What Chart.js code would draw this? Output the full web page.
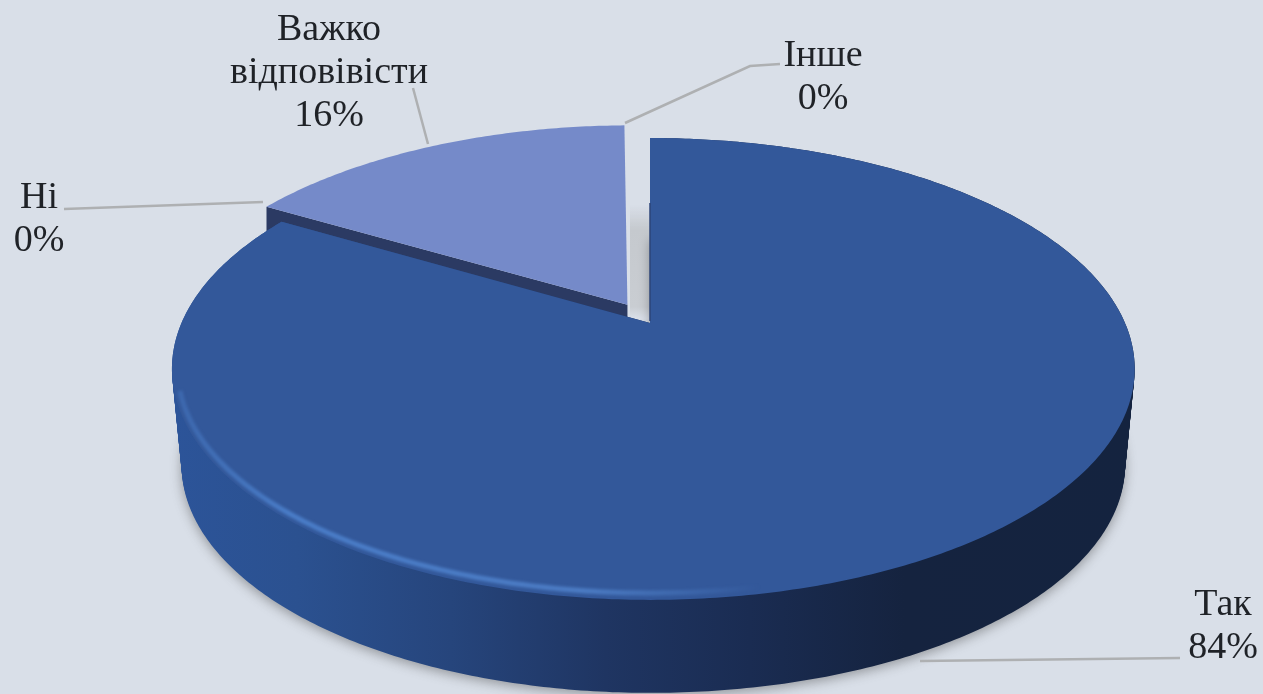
<!DOCTYPE html>
<html lang="uk">
<head>
<meta charset="utf-8">
<title>Pie</title>
<script src="https://cdn.jsdelivr.net/npm/chart.js@4"></script>
<style>
    html, body { margin: 0; padding: 0; background: #d9dfe8; overflow: hidden; }
    #wrap { width: 1263px; height: 694px; }
    #pie { display: block; filter: blur(0.7px); }
</style>
</head>
<body>
<div id="wrap"><canvas id="pie" width="1263" height="694"></canvas></div>
<script>
const categories = ['Так', 'Ні', 'Важко відповівісти', 'Інше'];
const shares = [83.6, 0, 16.4, 0];
const sliceColors = ['#33589a', '#33589a', '#758ac9', '#d9dfe8'];

// where each label goes and how its leader line runs
const labelLayout = [
    { x: 1223, y: 605.5, line: [[920, 661], [1180, 658]] },
    { x: 39, y: 198.5, line: [[64, 209], [263, 202]] },
    { x: 329, y: 30.5, line: [[428, 144], [413, 88]] },
    { x: 823, y: 56.5, line: [[625, 123], [750, 66], [780, 64]] }
];

// perspective of the disc, measured on the reference
const view = { cx: 650, cy: 323, aLeft: 468.5, aRight: 475, b: 157.5, q: 0.199 };
const base = { scale: 0.98, topMid: 369, botMid: 465, yScale: 0.987 };

function project(u, v) {
    const w = 1 - view.q * v;
    const a = u < 0 ? view.aLeft : view.aRight;
    return { x: view.cx + a * u / w, y: (view.cy + view.b * v) / w };
}

function lower(p, t) {
    const x = view.cx + 3 + (p.x - view.cx - 3) * base.scale;
    const y = base.botMid + (p.y - base.topMid) * base.yScale;
    return { x: p.x + (x - p.x) * t, y: p.y + (y - p.y) * t };
}

function arcPoints(el) {
    const mid = (el.startAngle + el.endAngle) / 2;
    const off = (el.options.offset || 0) / el.outerRadius;
    const du = off * Math.cos(mid);
    const dv = off * Math.sin(mid);
    const steps = Math.max(2, Math.ceil((el.endAngle - el.startAngle) * 90));
    const rim = [];
    for (let i = 0; i <= steps; i++) {
        const t = el.startAngle + (el.endAngle - el.startAngle) * i / steps;
        rim.push(project(Math.cos(t) + du, Math.sin(t) + dv));
    }
    return { apex: project(du, dv), rim: rim };
}

function trace(ctx, pts) {
    ctx.beginPath();
    pts.forEach((p, i) => {
        if (i === 0) ctx.moveTo(p.x, p.y);
        else ctx.lineTo(p.x, p.y);
    });
    ctx.closePath();
}

function drawSmallSlice(ctx, el) {
    const g = arcPoints(el);
    const corner = g.rim[0];
    // dark cut face, the big slice covers most of it
    ctx.fillStyle = '#2b3a63';
    trace(ctx, [corner, g.apex, { x: g.apex.x, y: g.apex.y + 14 }, { x: corner.x, y: corner.y + 40 }]);
    ctx.fill();
    ctx.fillStyle = el.options.backgroundColor;
    trace(ctx, [g.apex].concat(g.rim));
    ctx.fill();
}

function drawBigSlice(ctx, el) {
    const g = arcPoints(el);
    const wedge = [g.apex].concat(g.rim);

    const side = ctx.createLinearGradient(172, 0, 1135, 0);
    side.addColorStop(0, '#2c5499');
    side.addColorStop(0.13, '#2b5190');
    side.addColorStop(0.29, '#26457c');
    side.addColorStop(0.45, '#1f3562');
    side.addColorStop(0.6, '#1a2c52');
    side.addColorStop(0.76, '#15233f');
    side.addColorStop(1, '#14233f');

    // shadow first, then sweep the wedge down so the wall has straight flanks
    ctx.save();
    ctx.shadowColor = 'rgba(60, 60, 60, 0.45)';
    ctx.shadowBlur = 12;
    ctx.shadowOffsetY = 3;
    ctx.fillStyle = side;
    trace(ctx, wedge.map(p => lower(p, 1)));
    ctx.fill();
    ctx.restore();
    ctx.fillStyle = side;
    for (let i = 0; i < 48; i++) {
        trace(ctx, wedge.map(p => lower(p, i / 48)));
        ctx.fill();
    }

    ctx.fillStyle = el.options.backgroundColor;
    trace(ctx, wedge);
    ctx.fill();

    // lit rim on the front left
    const glow = ctx.createLinearGradient(172, 0, 760, 0);
    glow.addColorStop(0, 'rgba(74, 125, 200, 0.4)');
    glow.addColorStop(0.2, 'rgba(74, 125, 200, 1)');
    glow.addColorStop(0.7, 'rgba(76, 124, 196, 1)');
    glow.addColorStop(1, 'rgba(76, 124, 196, 0)');
    ctx.save();
    ctx.filter = 'blur(1.5px)';
    ctx.strokeStyle = glow;
    ctx.lineWidth = 5;
    ctx.beginPath();
    let pen = false;
    g.rim.forEach(p => {
        if (p.y < base.topMid + 20 || p.x > 780) return;
        const q = { x: view.cx + 3 + (p.x - view.cx - 3) * 0.988, y: base.topMid + (p.y - base.topMid) * 0.97 };
        if (!pen) ctx.moveTo(q.x, q.y);
        else ctx.lineTo(q.x, q.y);
        pen = true;
    });
    ctx.stroke();
    ctx.restore();

    // thin dark edge of the cut next to the gap
    ctx.strokeStyle = '#2d4478';
    ctx.lineWidth = 1.5;
    ctx.beginPath();
    ctx.moveTo(g.apex.x, g.apex.y - 120);
    ctx.lineTo(g.apex.x, g.apex.y - 2);
    ctx.stroke();
}

function drawGapShadow(ctx) {
    const grey = ctx.createLinearGradient(0, 205, 0, 318);
    grey.addColorStop(0, 'rgba(197, 201, 206, 0)');
    grey.addColorStop(0.22, 'rgba(197, 201, 206, 1)');
    grey.addColorStop(0.9, 'rgba(201, 205, 210, 1)');
    grey.addColorStop(1, 'rgba(217, 223, 232, 1)');
    ctx.fillStyle = grey;
    ctx.fillRect(630, 205, 20, 114);
}

function drawLabels(chart) {
    const ctx = chart.ctx;
    const total = shares.reduce((s, v) => s + v, 0);
    categories.forEach((name, i) => {
        const box = labelLayout[i];
        ctx.strokeStyle = '#aeb0b2';
        ctx.lineWidth = 2.5;
        ctx.beginPath();
        box.line.forEach((p, k) => {
            if (k === 0) ctx.moveTo(p[0], p[1]);
            else ctx.lineTo(p[0], p[1]);
        });
        ctx.stroke();

        const lines = name.split(' ');
        lines.push(Math.round(shares[i] / total * 100) + '%');
        ctx.fillStyle = '#1f2227';
        ctx.font = '38px "Liberation Serif"';
        ctx.textAlign = 'center';
        ctx.textBaseline = 'middle';
        lines.forEach((text, k) => ctx.fillText(text, box.x, box.y + k * 43));
    });
}

const pie3d = {
    id: 'pie3d',
    beforeDatasetsDraw(chart) {
        const ctx = chart.ctx;
        const arcs = chart.getDatasetMeta(0).data;
        drawSmallSlice(ctx, arcs[2]);
        drawGapShadow(ctx);
        drawBigSlice(ctx, arcs[0]);
        drawLabels(chart);
        return false; // the library's flat arcs are replaced by the tilted ones
    }
};

new Chart(document.getElementById('pie').getContext('2d'), {
    type: 'pie',
    data: {
        labels: categories,
        datasets: [{
            data: shares,
            backgroundColor: sliceColors,
            borderWidth: 0,
            offset: [0, 0, 32, 0]
        }]
    },
    options: {
        responsive: false,
        animation: false,
        circumference: 359,
        plugins: { legend: { display: false }, tooltip: { enabled: false } }
    },
    plugins: [pie3d]
});
</script>
</body>
</html>
